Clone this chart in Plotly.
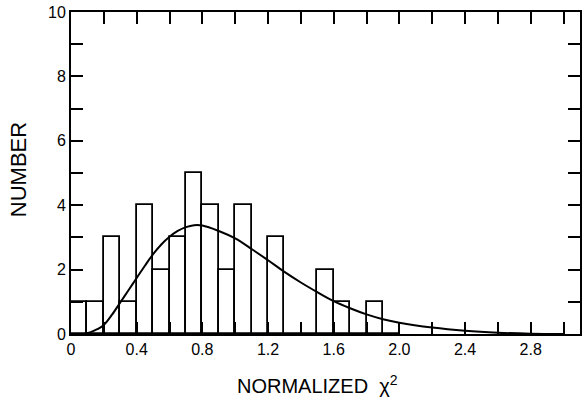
import plotly.graph_objects as go

# Histogram (bin width 0.1, starting at 0)
bin_centers = [0.05, 0.15, 0.25, 0.35, 0.45, 0.55, 0.65, 0.75, 0.85, 0.95,
               1.05, 1.15, 1.25, 1.35, 1.45, 1.55, 1.65, 1.75, 1.85, 1.95]
counts = [1, 1, 3, 1, 4, 2, 3, 5, 4, 2,
          4, 0, 3, 0, 0, 2, 1, 0, 1, 0]

# Expected curve
curve_x = [0.08, 0.12, 0.16, 0.2, 0.25, 0.3, 0.35, 0.4, 0.45, 0.5, 0.55, 0.6, 0.65,
           0.7, 0.75, 0.8, 0.9, 1.0, 1.1, 1.2, 1.3, 1.4, 1.5, 1.6, 1.7, 1.8,
           1.9, 2.0, 2.2, 2.4, 2.6, 2.8, 3.0]
curve_y = [0.0, 0.06, 0.15, 0.28, 0.6, 0.98, 1.36, 1.74, 2.12, 2.48, 2.78, 3.02, 3.2,
           3.32, 3.38, 3.37, 3.2, 2.97, 2.64, 2.29, 1.93, 1.6, 1.3, 1.02, 0.8, 0.61,
           0.46, 0.35, 0.2, 0.1, 0.04, 0.01, 0.0]

x_tickvals = [0, 0.2, 0.4, 0.6, 0.8, 1.0, 1.2, 1.4, 1.6, 1.8, 2.0, 2.2, 2.4, 2.6, 2.8, 3.0]
x_ticktext = ["0", " ", "0.4", " ", "0.8", " ", "1.2", " ", "1.6", " ", "2.0", " ", "2.4", " ", "2.8", " "]
y_tickvals = [0, 1, 2, 3, 4, 5, 6, 7, 8, 9, 10]
y_ticktext = ["0", " ", "2", " ", "4", " ", "6", " ", "8", " ", "10"]

fig = go.Figure()
fig.add_trace(go.Bar(
    x=bin_centers, y=counts, width=0.1,
    marker=dict(color="rgba(0,0,0,0)", line=dict(color="black", width=1.8)),
    showlegend=False,
))
fig.add_trace(go.Scatter(
    x=curve_x, y=curve_y, mode="lines",
    line=dict(color="black", width=2, shape="spline", smoothing=1.0),
    showlegend=False,
))

font_family = "Liberation Sans, Arial, sans-serif"
fig.update_layout(
    width=582, height=397,
    margin=dict(l=71, r=0, t=12, b=63),
    paper_bgcolor="white", plot_bgcolor="white",
    font=dict(family=font_family, color="black", size=16),
    bargap=0,
)
fig.update_xaxes(
    range=[0, 3.1], tickvals=x_tickvals, ticktext=x_ticktext,
    ticks="inside", ticklen=12, tickwidth=1.5, tickcolor="black",
    showline=True, linecolor="black", linewidth=2, mirror="ticks",
    showgrid=False, zeroline=False,
    tickfont=dict(size=16),
)
fig.update_yaxes(
    range=[0, 10], tickvals=y_tickvals, ticktext=y_ticktext,
    ticks="inside", ticklen=12, tickwidth=1.5, tickcolor="black",
    showline=True, linecolor="black", linewidth=2, mirror="ticks",
    showgrid=False, zeroline=False,
    tickfont=dict(size=16),
)

# Axis titles placed as annotations for precise positioning
fig.add_annotation(
    text="NORMALIZED  χ<sup>2</sup>", xref="paper", yref="paper",
    x=0.485, y=-0.158, xanchor="center", yanchor="middle",
    showarrow=False, font=dict(size=20),
)
fig.add_annotation(
    text="NUMBER", xref="paper", yref="paper",
    x=-0.104, y=0.509, xanchor="center", yanchor="middle",
    textangle=-90, showarrow=False, font=dict(size=22),
)

fig.write_html("out.html")
